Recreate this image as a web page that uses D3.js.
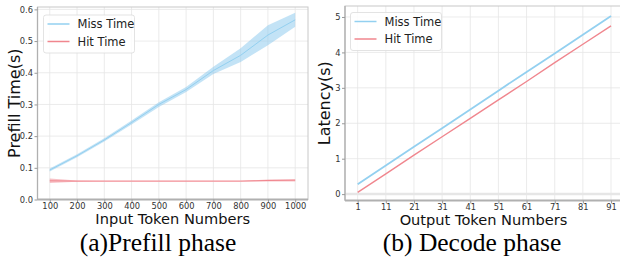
<!DOCTYPE html>
<html>
<head>
<meta charset="utf-8">
<script src="https://cdn.jsdelivr.net/npm/d3@7"></script>
<style>
  body { margin: 0; background: #fff; }
  svg text { font-family: "DejaVu Sans", sans-serif; }
</style>
</head>
<body>
<main></main>
<script>
// prefill panel
const inputTokens = [100, 200, 300, 400, 500, 600, 700, 800, 900, 1000];
const missMean = [0.093, 0.138, 0.188, 0.243, 0.300, 0.347, 0.407, 0.455, 0.519, 0.567];
const missLow  = [0.088, 0.133, 0.183, 0.237, 0.292, 0.339, 0.396, 0.434, 0.487, 0.545];
const missHigh = [0.098, 0.143, 0.193, 0.249, 0.307, 0.355, 0.419, 0.477, 0.550, 0.589];
const hitMean = [0.059, 0.058, 0.058, 0.058, 0.058, 0.058, 0.058, 0.058, 0.060, 0.061];
const hitLow  = [0.052, 0.056, 0.057, 0.057, 0.057, 0.057, 0.057, 0.057, 0.057, 0.057];
const hitHigh = [0.066, 0.060, 0.059, 0.059, 0.059, 0.059, 0.059, 0.059, 0.063, 0.064];
const prefillYTicks = [0.0, 0.1, 0.2, 0.3, 0.4, 0.5, 0.6];

// decode panel
const outputTokens = [1, 11, 21, 31, 41, 51, 61, 71, 81, 91];
const decodeMiss = [0.28, 0.81, 1.34, 1.86, 2.39, 2.92, 3.45, 3.97, 4.50, 5.03];
const decodeHit  = [0.05, 0.57, 1.10, 1.62, 2.14, 2.66, 3.18, 3.71, 4.23, 4.75];
const decodeYTicks = [0, 1, 2, 3, 4, 5];

const seriesNames = ['Miss Time', 'Hit Time'];
const lineColor = { 'Miss Time': '#93d0f0', 'Hit Time': '#f0868e' };
const bandColor = { 'Miss Time': 'rgba(135,200,238,0.5)', 'Hit Time': 'rgba(240,120,130,0.45)' };

const w = 620, h = 257;
const svg = d3.select('main').append('svg').attr('width', w).attr('height', h);

function panel(o) {
    const g = svg.append('g');
    const x = d3.scaleLinear().domain(o.xDomain).range([o.left, o.right]);
    const y = d3.scaleLinear().domain(o.yDomain).range([o.bottom, o.top]);

    // grid
    g.selectAll('.vg').data(o.xTicks).enter().append('line')
        .attr('x1', d => x(d)).attr('x2', d => x(d))
        .attr('y1', o.top).attr('y2', o.bottom)
        .attr('stroke', '#e6e6e6').attr('stroke-width', 0.8);
    g.selectAll('.hg').data(o.yTicks).enter().append('line')
        .attr('x1', o.left).attr('x2', o.right)
        .attr('y1', d => y(d)).attr('y2', d => y(d))
        .attr('stroke', '#e6e6e6').attr('stroke-width', d => d === 0 && o.zeroBand ? 2.5 : 0.8);

    // frame
    g.append('rect').attr('x', o.left).attr('y', o.top)
        .attr('width', o.right - o.left).attr('height', o.bottom - o.top)
        .attr('fill', 'none').attr('stroke', '#c8c8c8').attr('stroke-width', 1);
    g.append('line').attr('x1', o.left).attr('x2', o.left).attr('y1', o.top).attr('y2', o.bottom)
        .attr('stroke', '#b0b0b0').attr('stroke-width', 1.3);
    g.append('line').attr('x1', o.left).attr('x2', o.right).attr('y1', o.bottom).attr('y2', o.bottom)
        .attr('stroke', '#b0b0b0').attr('stroke-width', 1.8);

    // axes
    const xa = g.append('g').attr('transform', `translate(0,${o.bottom})`)
        .call(d3.axisBottom(x).tickValues(o.xTicks).tickSize(3).tickPadding(1).tickFormat(o.xFormat));
    const ya = g.append('g').attr('transform', `translate(${o.left},0)`)
        .call(d3.axisLeft(y).tickValues(o.yTicks).tickSize(3).tickPadding(1.5).tickFormat(o.yFormat));
    [xa, ya].forEach(a => {
        a.select('.domain').remove();
        a.selectAll('line').attr('stroke', '#999');
        a.selectAll('text').attr('font-size', 8.3).attr('fill', '#333')
            .attr('font-family', '"DejaVu Sans", sans-serif');
    });

    // series
    o.series.forEach(s => {
        if (s.low) {
            const area = d3.area().x((d, i) => x(o.xs[i])).y0((d, i) => y(s.low[i])).y1((d, i) => y(s.high[i]));
            g.append('path').datum(s.mean).attr('d', area).attr('fill', bandColor[s.name]);
        }
        const line = d3.line().x((d, i) => x(o.xs[i])).y(d => y(d));
        g.append('path').datum(s.mean).attr('d', line).attr('fill', 'none')
            .attr('stroke', lineColor[s.name]).attr('stroke-width', s.width);
    });

    // labels
    g.append('text').attr('x', (o.left + o.right) / 2).attr('y', o.bottom + 24.5)
        .attr('text-anchor', 'middle').attr('font-size', 14.6).attr('fill', '#111').text(o.xLabel);
    g.append('text').attr('transform', `translate(${o.yLabelX},${(o.top + o.bottom) / 2}) rotate(-90)`)
        .attr('text-anchor', 'middle').attr('font-size', 16).attr('fill', '#111').text(o.yLabel);

    // legend
    const lg = g.append('g').attr('transform', `translate(${o.legend[0]},${o.legend[1]})`);
    lg.append('rect').attr('width', 91).attr('height', 38).attr('rx', 2.5)
        .attr('fill', 'rgba(255,255,255,0.85)').attr('stroke', '#dcdcdc').attr('stroke-width', 0.8);
    const item = lg.selectAll('.li').data(seriesNames).enter().append('g')
        .attr('transform', (d, i) => `translate(0,${9 + i * 17.5})`);
    item.append('line').attr('x1', 4).attr('x2', 26).attr('stroke', d => lineColor[d]).attr('stroke-width', 1.5);
    item.append('text').attr('x', 34).attr('y', 4.2).attr('font-size', 11.5).attr('fill', '#222').text(d => d);

    // caption
    svg.append('text').attr('x', o.captionX).attr('y', 250.5).attr('text-anchor', 'middle')
        .style('font-family', '"Liberation Serif", "Times New Roman", serif')
        .attr('font-size', 25.5).attr('fill', '#000').text(o.caption);
}

panel({
    left: 37.5, right: 308, top: 7, bottom: 199.5,
    xDomain: [55, 1047], yDomain: [0, 0.6075],
    xTicks: inputTokens, yTicks: prefillYTicks,
    xFormat: d3.format('d'), yFormat: d3.format('.1f'),
    xs: inputTokens,
    series: [
        { name: 'Miss Time', mean: missMean, low: missLow, high: missHigh, width: 1 },
        { name: 'Hit Time', mean: hitMean, low: hitLow, high: hitHigh, width: 1 }
    ],
    xLabel: 'Input Token Numbers', yLabel: 'Prefill Time(s)', yLabelX: 20,
    legend: [43.5, 15], caption: '(a)Prefill phase', captionX: 158
});

panel({
    left: 345, right: 622, top: 6, bottom: 200.5,
    xDomain: [-3.5, 94.9], yDomain: [-0.18, 5.31],
    xTicks: outputTokens, yTicks: decodeYTicks, zeroBand: true,
    xFormat: d3.format('d'), yFormat: d3.format('d'),
    xs: outputTokens,
    series: [
        { name: 'Miss Time', mean: decodeMiss, width: 1.8 },
        { name: 'Hit Time', mean: decodeHit, width: 1.4 }
    ],
    xLabel: 'Output Token Numbers', yLabel: 'Latency(s)', yLabelX: 330,
    legend: [350.5, 12.5], caption: '(b) Decode phase', captionX: 472
});
</script>
</body>
</html>
